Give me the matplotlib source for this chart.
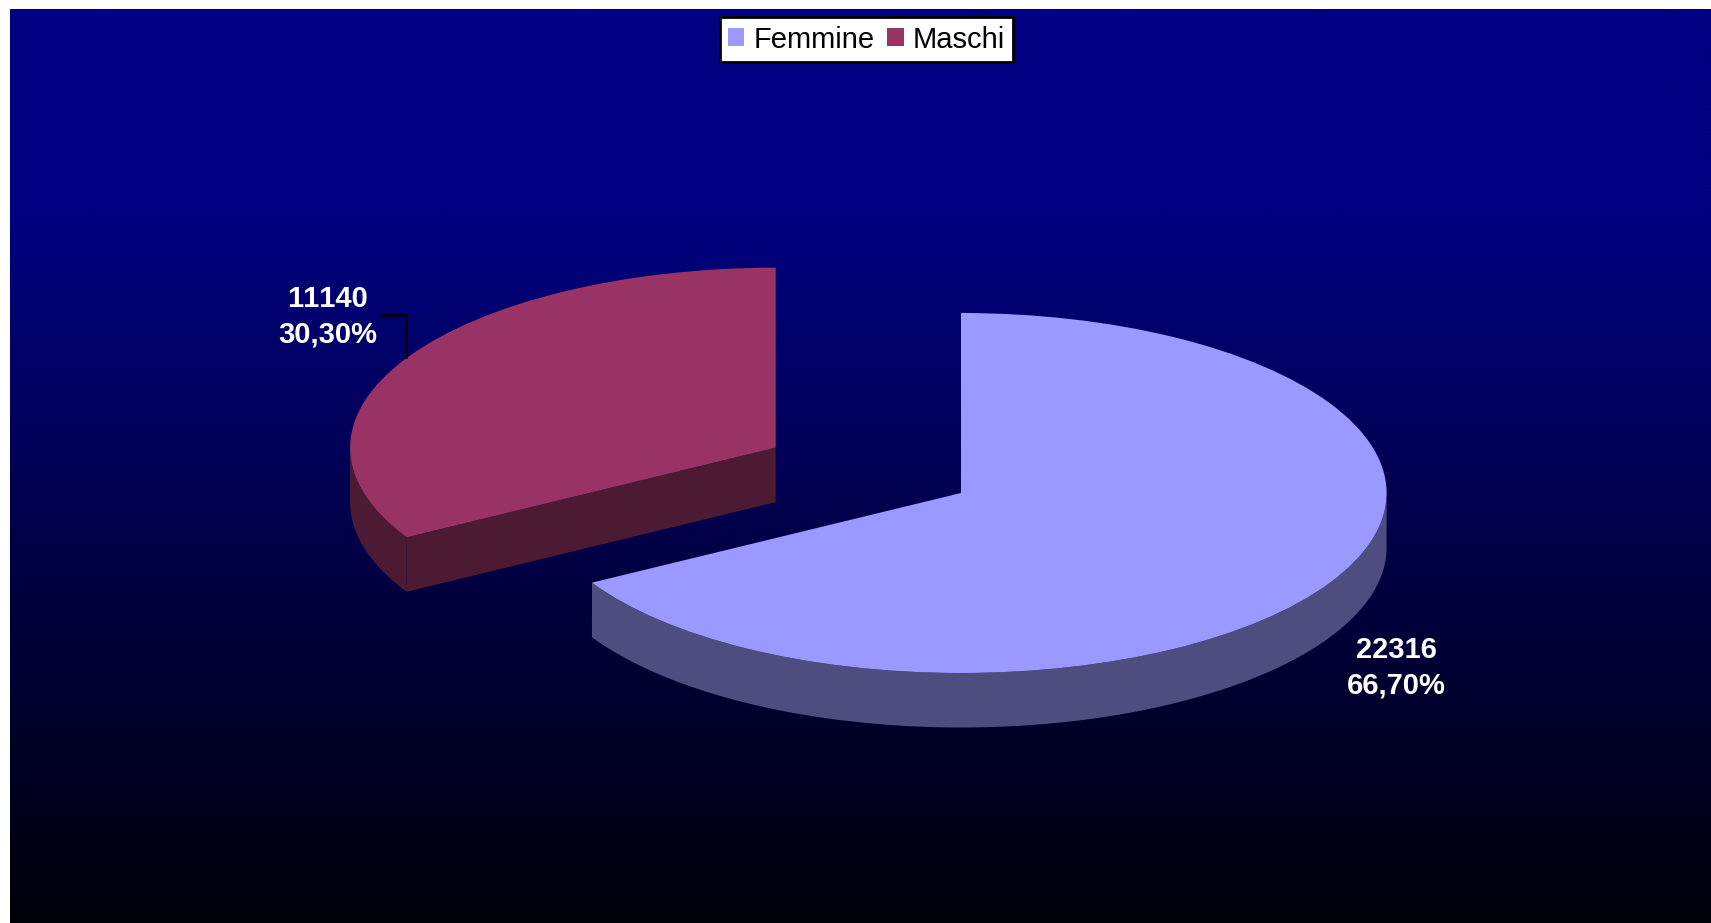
import numpy as np
import matplotlib
matplotlib.use('Agg')
import matplotlib.pyplot as plt
from matplotlib.patches import Polygon
from matplotlib.colors import LinearSegmentedColormap

# Data
categories = ['Femmine', 'Maschi']
values = [22316, 11140]
explode = [0, 0.503]
labels = ['22316\n66,70%', '11140\n30,30%']
colors = ['#9999FF', '#993366']
side_colors = ['#4D4D80', '#4D1A33']

W, H = 1711, 923
plt.rcParams['font.family'] = ['Liberation Sans', 'DejaVu Sans']
plt.rcParams['text.kerning_factor'] = 6

fig = plt.figure(figsize=(W / 100, H / 100), dpi=100, facecolor='white')

# Background gradient, leaves a thin white strip left and top
bg = fig.add_axes([10 / W, 0, 1 - 10 / W, (H - 9) / H])
cmap = LinearSegmentedColormap.from_list('bg', [(0, '#000080'), (0.22, '#000080'), (1, '#000008')])
bg.imshow(np.linspace(0, 1, 512).reshape(-1, 1), cmap=cmap, aspect='auto')
bg.axis('off')

# Pie axes over the whole figure, squashed so the circle looks tilted
ax = fig.add_axes([0, 0, 1, 1])
wedges, _ = ax.pie(values, explode=explode, colors=colors, startangle=90,
                   counterclock=False, radius=1, wedgeprops={'linewidth': 0})
ax.set_aspect('auto')
cx, cy, rx, ry = 961, 493, 425.6, 180
ax.set_xlim(-cx / rx, (W - cx) / rx)
ax.set_ylim(-(H - cy) / ry, cy / ry)
ax.patch.set_visible(False)
depth = 54.5 / ry


def px(x, y):
    return (x - cx) / rx, (cy - y) / ry


# Sides of the slices: only the front part of the rim (-180..0 deg) is visible
for w, c in zip(wedges, side_colors):
    t = np.radians(np.clip(np.linspace(w.theta1, w.theta2, 240), -180, 0))
    rim = np.c_[w.center[0] + w.r * np.cos(t), w.center[1] + w.r * np.sin(t)]
    drop = [0, depth]
    ax.add_patch(Polygon(np.r_[rim, rim[::-1] - drop], closed=True, fc=c, ec='none', zorder=0.5))
    # cut face from the centre to the start of the slice
    cut = np.array([w.center, [w.center[0] + w.r * np.cos(np.radians(w.theta2)),
                               w.center[1] + w.r * np.sin(np.radians(w.theta2))]])
    if w.theta2 < 0:
        ax.add_patch(Polygon(np.r_[cut, cut[::-1] - drop], closed=True, fc=c, ec='none', zorder=0.5))

# Data labels
label_pos = [px(1396, 668), px(327.5, 317)]
for (x, y), s in zip(label_pos, labels):
    ax.text(x, y, s, color='white', fontsize=21, fontweight='bold',
            ha='center', va='center', linespacing=1.36, zorder=5)

# Leader line
lx, ly = zip(px(380, 315), px(406, 315), px(406, 357))
ax.plot(lx, ly, color='black', lw=1.8, solid_joinstyle='miter', zorder=1)

leg = ax.legend(wedges, categories, loc='center', ncol=2,
                bbox_to_anchor=(866.5 / W, 1 - 39.5 / H), bbox_transform=fig.transFigure,
                prop={'size': 21}, fancybox=False, framealpha=1, edgecolor='black',
                handlelength=0.55, handleheight=0.55, handletextpad=0.3,
                columnspacing=0.45, borderpad=0.28, borderaxespad=0)
leg.get_frame().set_linewidth(2)
leg.set_zorder(6)

fig.savefig('out.png', dpi=100, facecolor='white')
